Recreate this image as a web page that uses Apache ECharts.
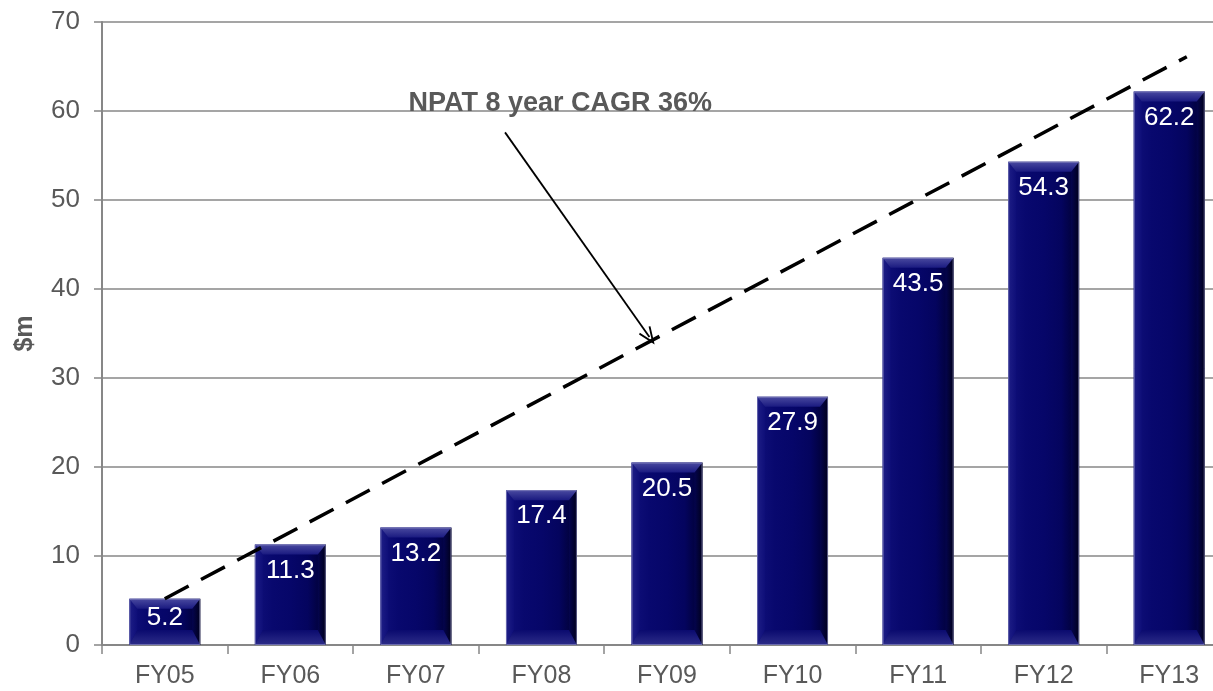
<!DOCTYPE html>
<html>
<head>
<meta charset="utf-8">
<script src="https://cdn.jsdelivr.net/npm/echarts@6/dist/echarts.min.js"></script>
<style>
  html, body { margin: 0; padding: 0; background: #ffffff; }
  #chart { width: 1213px; height: 691px; }
</style>
</head>
<body>
<div id="chart"></div>
<script>
// Net profit after tax by financial year, $m
const years = ['FY05', 'FY06', 'FY07', 'FY08', 'FY09', 'FY10', 'FY11', 'FY12', 'FY13'];
const npat = [5.2, 11.3, 13.2, 17.4, 20.5, 27.9, 43.5, 54.3, 62.2];
const yTicks = { min: 0, max: 70, interval: 10 };

// CAGR trend line endpoints: [category position, value]
const trendLine = [[0, 5.2], [8.14, 66.1]];
// Callout arrow from the caption down to the trend line
const arrowFrom = [2.71, 57.6];
const arrowTo = [3.86, 34.6];
const caption = 'NPAT 8 year CAGR 36%';
const captionAt = [3.15, 60.8];

const FONT = '"Liberation Sans", Arial, Helvetica, sans-serif';
const GREY = '#595959';
const AXIS_GREY = '#878787';

function grad(x, y, x2, y2, stops) {
  return new echarts.graphic.LinearGradient(x, y, x2, y2,
    stops.map((c, i) => ({ offset: i / (stops.length - 1), color: c })));
}

// Bevelled bar drawn from the axis scales
function renderBar(params, api) {
  const idx = api.value(0);
  const val = api.value(1);
  const top = api.coord([idx, val]);
  const base = api.coord([idx, 0]);
  const w = api.size([1, 0])[0] * 0.565;
  const x0 = top[0] - w / 2, x1 = top[0] + w / 2;
  const y0 = top[1], y1 = base[1];
  const h = y1 - y0;
  const dt = Math.min(10, h / 4);
  const db = Math.min(15, h / 3);
  const side = Math.min(dt, db, 8);
  return {
    type: 'group',
    children: [
      { type: 'rect', shape: { x: x0, y: y0, width: w, height: h },
        style: { fill: grad(0, 0, 1, 0, ['#10107a', '#08086e', '#060669', '#04045e', '#00002c']) } },
      // left edge
      { type: 'polygon', shape: { points: [[x0, y0], [x0 + side, y0 + dt], [x0 + side, y1 - db], [x0, y1]] },
        style: { fill: grad(0, 0, 1, 0, ['#1e1e86', '#0e0e78']) } },
      // right edge
      { type: 'polygon', shape: { points: [[x1, y0], [x1 - side, y0 + dt], [x1 - side, y1 - db], [x1, y1]] },
        style: { fill: grad(0, 0, 1, 0, ['#04044e', '#00001c']) } },
      // top bevel
      { type: 'polygon', shape: { points: [[x0, y0], [x1, y0], [x1 - side, y0 + dt], [x0 + side, y0 + dt]] },
        style: { fill: grad(0, 0, 0, 1, ['#4a4aa0', '#1a1a80']) } },
      // bottom bevel
      { type: 'polygon', shape: { points: [[x0, y1], [x1, y1], [x1 - side, y1 - db], [x0 + side, y1 - db]] },
        style: { fill: grad(0, 0, 0, 1, ['#0a0a6e', '#1c1c7c', '#2c2c88']) } },
      { type: 'rect', shape: { x: x0 + 0.5, y: y0 + 0.5, width: w - 1, height: h - 1 },
        style: { fill: 'none', stroke: 'rgba(150,150,200,0.6)', lineWidth: 1 } },
      { type: 'text',
        style: {
          text: String(val), x: top[0], y: y0 + Math.min(26, h / 2 - 4),
          fill: '#ffffff', font: '26px ' + FONT, align: 'center', verticalAlign: 'middle'
        } }
    ]
  };
}

const chart = echarts.init(document.getElementById('chart'), null, { renderer: 'canvas' });

chart.setOption({
  backgroundColor: '#ffffff',
  animation: false,
  grid: { left: 102, top: 22, width: 1130, height: 623, containLabel: false, outerBoundsMode: 'none' },
  xAxis: [
    {
      type: 'category', data: years, boundaryGap: true,
      axisLine: { lineStyle: { color: AXIS_GREY, width: 2 } },
      axisTick: { show: true, length: 9, lineStyle: { color: AXIS_GREY, width: 1.5 } },
      axisLabel: { color: GREY, fontSize: 25, fontFamily: FONT, margin: 19 },
      splitLine: { show: false }
    },
    {
      type: 'value', min: -0.5, max: 8.5, show: false
    }
  ],
  yAxis: {
    type: 'value', min: yTicks.min, max: yTicks.max, interval: yTicks.interval,
    name: '$m', nameLocation: 'middle', nameGap: 64, nameRotate: 90,
    nameTextStyle: { color: GREY, fontSize: 25, fontWeight: 'bold', fontFamily: FONT },
    axisLine: { show: true, onZero: false, lineStyle: { color: AXIS_GREY, width: 2 } },
    axisTick: { show: true, length: 8, lineStyle: { color: AXIS_GREY, width: 1.5 } },
    axisLabel: { color: GREY, fontSize: 26, fontFamily: FONT, margin: 22 },
    splitLine: { show: true, lineStyle: { color: AXIS_GREY, width: 1.5 } }
  },
  series: [
    {
      type: 'custom', xAxisIndex: 0, yAxisIndex: 0,
      renderItem: renderBar,
      data: npat.map((v, i) => [i, v]),
      z: 2
    },
    {
      type: 'line', xAxisIndex: 1, yAxisIndex: 0,
      data: trendLine, symbol: 'none', z: 5,
      lineStyle: { color: '#000000', width: 3.5, type: [27, 14] },
      markLine: {
        silent: true, symbolSize: [14, 18],
        lineStyle: { color: '#000000', width: 1.8, type: 'solid' },
        label: { show: false },
        data: [[
          { coord: arrowFrom, symbol: 'none' },
          { coord: arrowTo, symbol: 'path://M0,12 L6,0 L12,12 L10.6,12.6 L6,3.4 L1.4,12.6 Z' }
        ]]
      },
      markPoint: {
        silent: true, symbol: 'circle', symbolSize: 0,
        label: {
          show: true, position: 'inside', formatter: caption,
          color: GREY, fontSize: 27, fontWeight: 'bold', fontFamily: FONT
        },
        data: [{ coord: captionAt }]
      }
    }
  ]
});
</script>
</body>
</html>
